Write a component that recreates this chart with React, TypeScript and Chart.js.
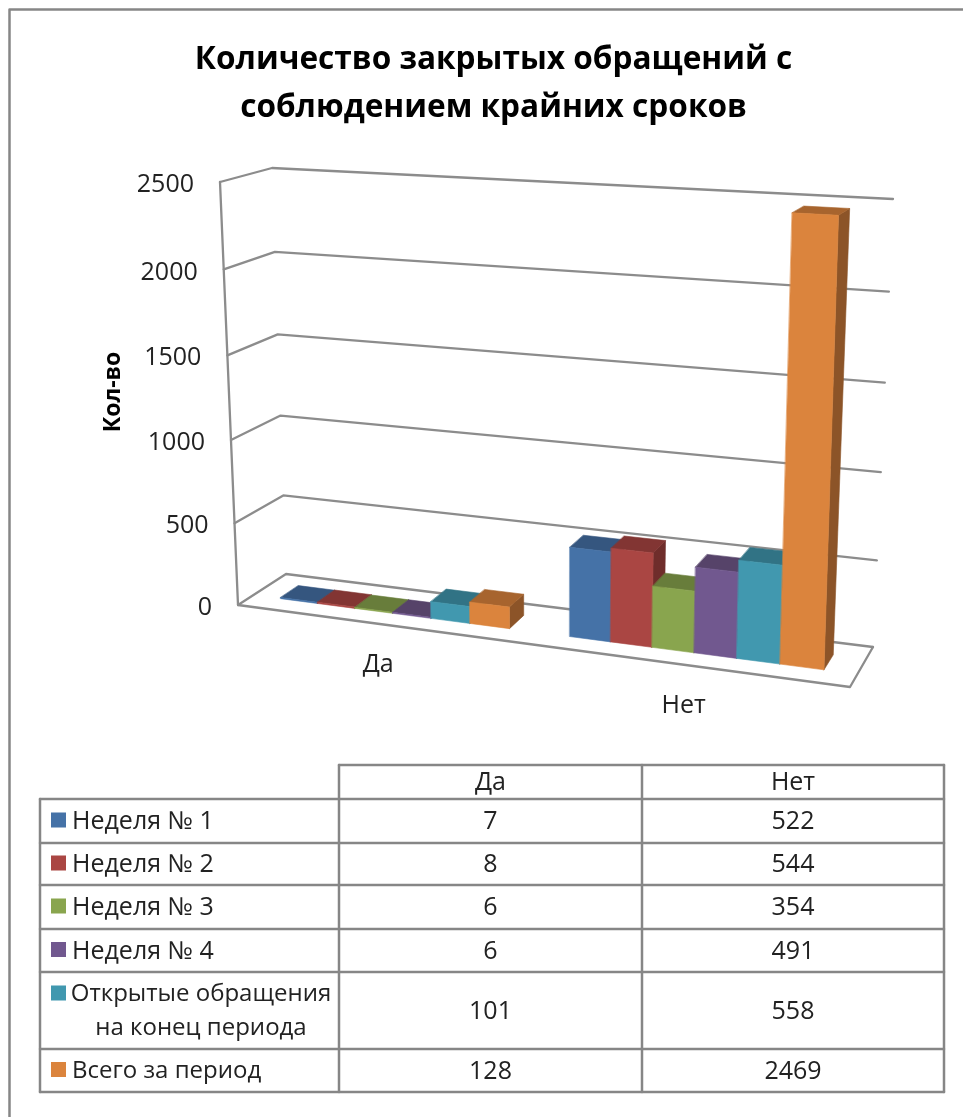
import React, { useEffect, useRef } from "react";
import { Chart, registerables } from "chart.js";

Chart.register(...registerables);

const categories = ["Да", "Нет"];
const seriesNames = [
  "Неделя № 1",
  "Неделя № 2",
  "Неделя № 3",
  "Неделя № 4",
  "Открытые обращения на конец периода",
  "Всего за период",
];
const week1 = [7, 522];
const week2 = [8, 544];
const week3 = [6, 354];
const week4 = [6, 491];
const openAtEnd = [101, 558];
const totalForPeriod = [128, 2469];
const seriesValues = [week1, week2, week3, week4, openAtEnd, totalForPeriod];
const frontColors = ["#4572A7", "#AA4643", "#89A54E", "#71588F", "#4198AF", "#DB843D"];
const topColors = ["#35567F", "#823533", "#687D3B", "#564369", "#317385", "#A7642E"];
const sideColors = ["#2E4A6E", "#6F2D2B", "#5A6C33", "#4A3A5B", "#2A6373", "#8C5428"];

const FONT = '"Open Sans"';
const LINE = "#868686";
const TEXT = "#222222";

// projected corners of the plot box: F/B = front/back, L/R, B/T = bottom/top
const FLB = [238, 605], FRB = [850, 687], BLB = [286, 574], BRB = [873, 647];
const FLT = [220, 182], FRT = [865, 217], BLT = [272, 168], BRT = [893, 199];
const warpU = (u: number) => (u * 0.9) / (1 - 0.1 * u);
const warpW = (w: number) => (w * 0.96) / (1 - 0.04 * w);
const mix = (a: number[], b: number[], t: number) => [a[0] + (b[0] - a[0]) * t, a[1] + (b[1] - a[1]) * t];
const proj = (u: number, v: number, w: number) => {
  const fu = warpU(u), fw = warpW(w);
  const bottom = mix(mix(FLB, FRB, fu), mix(BLB, BRB, fu), v);
  const top = mix(mix(FLT, FRT, fu), mix(BLT, BRT, fu), v);
  return mix(bottom, top, fw);
};
const BAR_V0 = 0.32, BAR_V1 = 0.7;

const tableX = [40, 339, 642, 944];
const tableY = [765, 799, 843, 885, 929, 972, 1049, 1092];

const poly = (ctx: CanvasRenderingContext2D, pts: number[][], color: string) => {
  ctx.beginPath();
  pts.forEach((p, i) => (i ? ctx.lineTo(p[0], p[1]) : ctx.moveTo(p[0], p[1])));
  ctx.closePath();
  ctx.fillStyle = color;
  ctx.strokeStyle = color;
  ctx.lineWidth = 0.6;
  ctx.fill();
  ctx.stroke();
};
const path = (ctx: CanvasRenderingContext2D, pts: number[][]) => {
  ctx.beginPath();
  pts.forEach((p, i) => (i ? ctx.lineTo(p[0], p[1]) : ctx.moveTo(p[0], p[1])));
  ctx.stroke();
};

const box3dPlugin = {
  id: "box3d",
  beforeDatasetsDraw(chart: any) {
    const { ctx, chartArea, scales } = chart;
    const W = chartArea.right - chartArea.left;
    const H = chartArea.bottom - chartArea.top;
    const toU = (x: number) => (x - chartArea.left) / W;
    const toW = (y: number) => (chartArea.bottom - y) / H;
    ctx.save();
    ctx.lineJoin = "round";
    ctx.lineCap = "round";

    // frame
    ctx.strokeStyle = LINE;
    ctx.lineWidth = 2.5;
    path(ctx, [[9.5, 1130], [9.5, 9.5], [980, 9.5]]);

    // walls and floor
    ctx.lineWidth = 2.3;
    ctx.strokeStyle = "#8C8C8C";
    scales.y.ticks.forEach((t: any) => {
      const w = toW(scales.y.getPixelForValue(t.value));
      path(ctx, [proj(0, 0, w), proj(0, 1, w), proj(1, 1, w)]);
    });
    path(ctx, [proj(0, 0, 1), proj(0, 0, 0), proj(1, 0, 0), proj(1, 1, 0)]);

    // bars, left to right
    categories.forEach((_, c) => {
      chart.data.datasets.forEach((ds: any, d: number) => {
        const el = chart.getDatasetMeta(d).data[c];
        const u0 = toU(el.x - el.width / 2);
        const u1 = toU(el.x + el.width / 2);
        const w1 = toW(el.y);
        const w0 = toW(el.base);
        const flat = el.base - el.y < 2;
        if (!flat) {
          poly(ctx, [proj(u1, BAR_V0, w0), proj(u1, BAR_V1, w0), proj(u1, BAR_V1, w1), proj(u1, BAR_V0, w1)], sideColors[d]);
        }
        poly(ctx, [proj(u0, BAR_V0, w1), proj(u1, BAR_V0, w1), proj(u1, BAR_V1, w1), proj(u0, BAR_V1, w1)], topColors[d]);
        if (!flat) {
          poly(ctx, [proj(u0, BAR_V0, w0), proj(u1, BAR_V0, w0), proj(u1, BAR_V0, w1), proj(u0, BAR_V0, w1)], ds.backgroundColor);
        }
      });
    });

    // axis labels
    ctx.fillStyle = TEXT;
    ctx.textBaseline = "middle";
    ctx.font = `25px ${FONT}`;
    ctx.textAlign = "right";
    scales.y.ticks.forEach((t: any) => {
      const p = proj(0, 0, toW(scales.y.getPixelForValue(t.value)));
      ctx.fillText(String(t.value), p[0] - 26, p[1] + 3);
    });
    ctx.textAlign = "center";
    scales.x.getLabels().forEach((label: string, i: number) => {
      const p = proj(toU(scales.x.getPixelForTick(i)), 0, 0);
      ctx.fillText(label, p[0] - 1, p[1] + 41);
    });
    ctx.save();
    ctx.translate(113, 392);
    ctx.rotate(-Math.PI / 2);
    ctx.font = `bold 23px ${FONT}`;
    ctx.fillStyle = "#000";
    ctx.fillText(chart.options.scales.y.title.text, 0, 0);
    ctx.restore();

    // data table
    ctx.strokeStyle = LINE;
    ctx.lineWidth = 2.5;
    const [x0, x1, x2, x3] = tableX;
    path(ctx, [[x1, tableY[0]], [x3, tableY[0]]]);
    tableY.slice(1).forEach((y) => path(ctx, [[x0, y], [x3, y]]));
    path(ctx, [[x0, tableY[1]], [x0, tableY[7]]]);
    [x1, x2, x3].forEach((x) => path(ctx, [[x, tableY[0]], [x, tableY[7]]]));

    ctx.fillStyle = TEXT;
    ctx.font = `25px ${FONT}`;
    ctx.textAlign = "center";
    const colC = [(x1 + x2) / 2, (x2 + x3) / 2];
    categories.forEach((cat, c) => ctx.fillText(cat, colC[c], (tableY[0] + tableY[1]) / 2 + 1));
    chart.data.datasets.forEach((ds: any, d: number) => {
      const top = tableY[d + 1], bot = tableY[d + 2];
      const mid = (top + bot) / 2;
      ctx.font = `25px ${FONT}`;
      ctx.fillStyle = TEXT;
      categories.forEach((_, c) => ctx.fillText(String(ds.data[c]), colC[c], mid + 1));
      const wrapped = ds.label.length > 20;
      const swatchY = wrapped ? 993 : mid - 1;
      ctx.fillStyle = ds.backgroundColor;
      ctx.fillRect(51, swatchY - 7.5, 15, 15);
      ctx.fillStyle = TEXT;
      if (wrapped) {
        ctx.font = `24px ${FONT}`;
        const cut = ds.label.indexOf(" на ");
        ctx.textAlign = "center";
        ctx.fillText(ds.label.slice(0, cut), 201, 994);
        ctx.fillText(ds.label.slice(cut + 1), 201, 1028);
      } else {
        ctx.font = ds.label.length > 12 ? `24px ${FONT}` : `25px ${FONT}`;
        ctx.textAlign = "left";
        ctx.fillText(ds.label, 72, mid + 1);
      }
      ctx.textAlign = "center";
    });

    ctx.restore();
    return false;
  },
};

export default function App() {
  const ref = useRef<HTMLCanvasElement>(null);
  useEffect(() => {
    document.body.style.margin = "0";
    document.body.style.background = "#fff";
    const chart = new Chart(ref.current!, {
      type: "bar",
      data: {
        labels: categories,
        datasets: seriesNames.map((label, i) => ({
          label,
          data: seriesValues[i],
          backgroundColor: frontColors[i],
          categoryPercentage: 0.8,
          barPercentage: 1,
        })),
      },
      options: {
        animation: false,
        responsive: false,
        layout: { padding: { left: 24, top: 36, right: 0, bottom: 60 } },
        plugins: {
          legend: { display: false },
          tooltip: { enabled: false },
          title: {
            display: true,
            text: ["Количество закрытых обращений с", "соблюдением крайних сроков"],
            color: "#000",
            font: { family: FONT, size: 31.6, weight: "bold", lineHeight: 1.52 },
            padding: { top: 0, bottom: 20 },
          },
        },
        scales: {
          x: { display: false },
          y: {
            display: false,
            min: 0,
            max: 2500,
            ticks: { stepSize: 500 },
            title: { text: "Кол-во" },
          },
        },
      },
      plugins: [box3dPlugin],
    } as any);
    return () => chart.destroy();
  }, []);
  return (
    <div style={{ position: "absolute", left: 0, top: 0, width: 963, height: 1117, overflow: "hidden", background: "#fff" }}>
      <canvas ref={ref} width={963} height={1117} style={{ display: "block", filter: "blur(0.4px)" }} />
    </div>
  );
}
